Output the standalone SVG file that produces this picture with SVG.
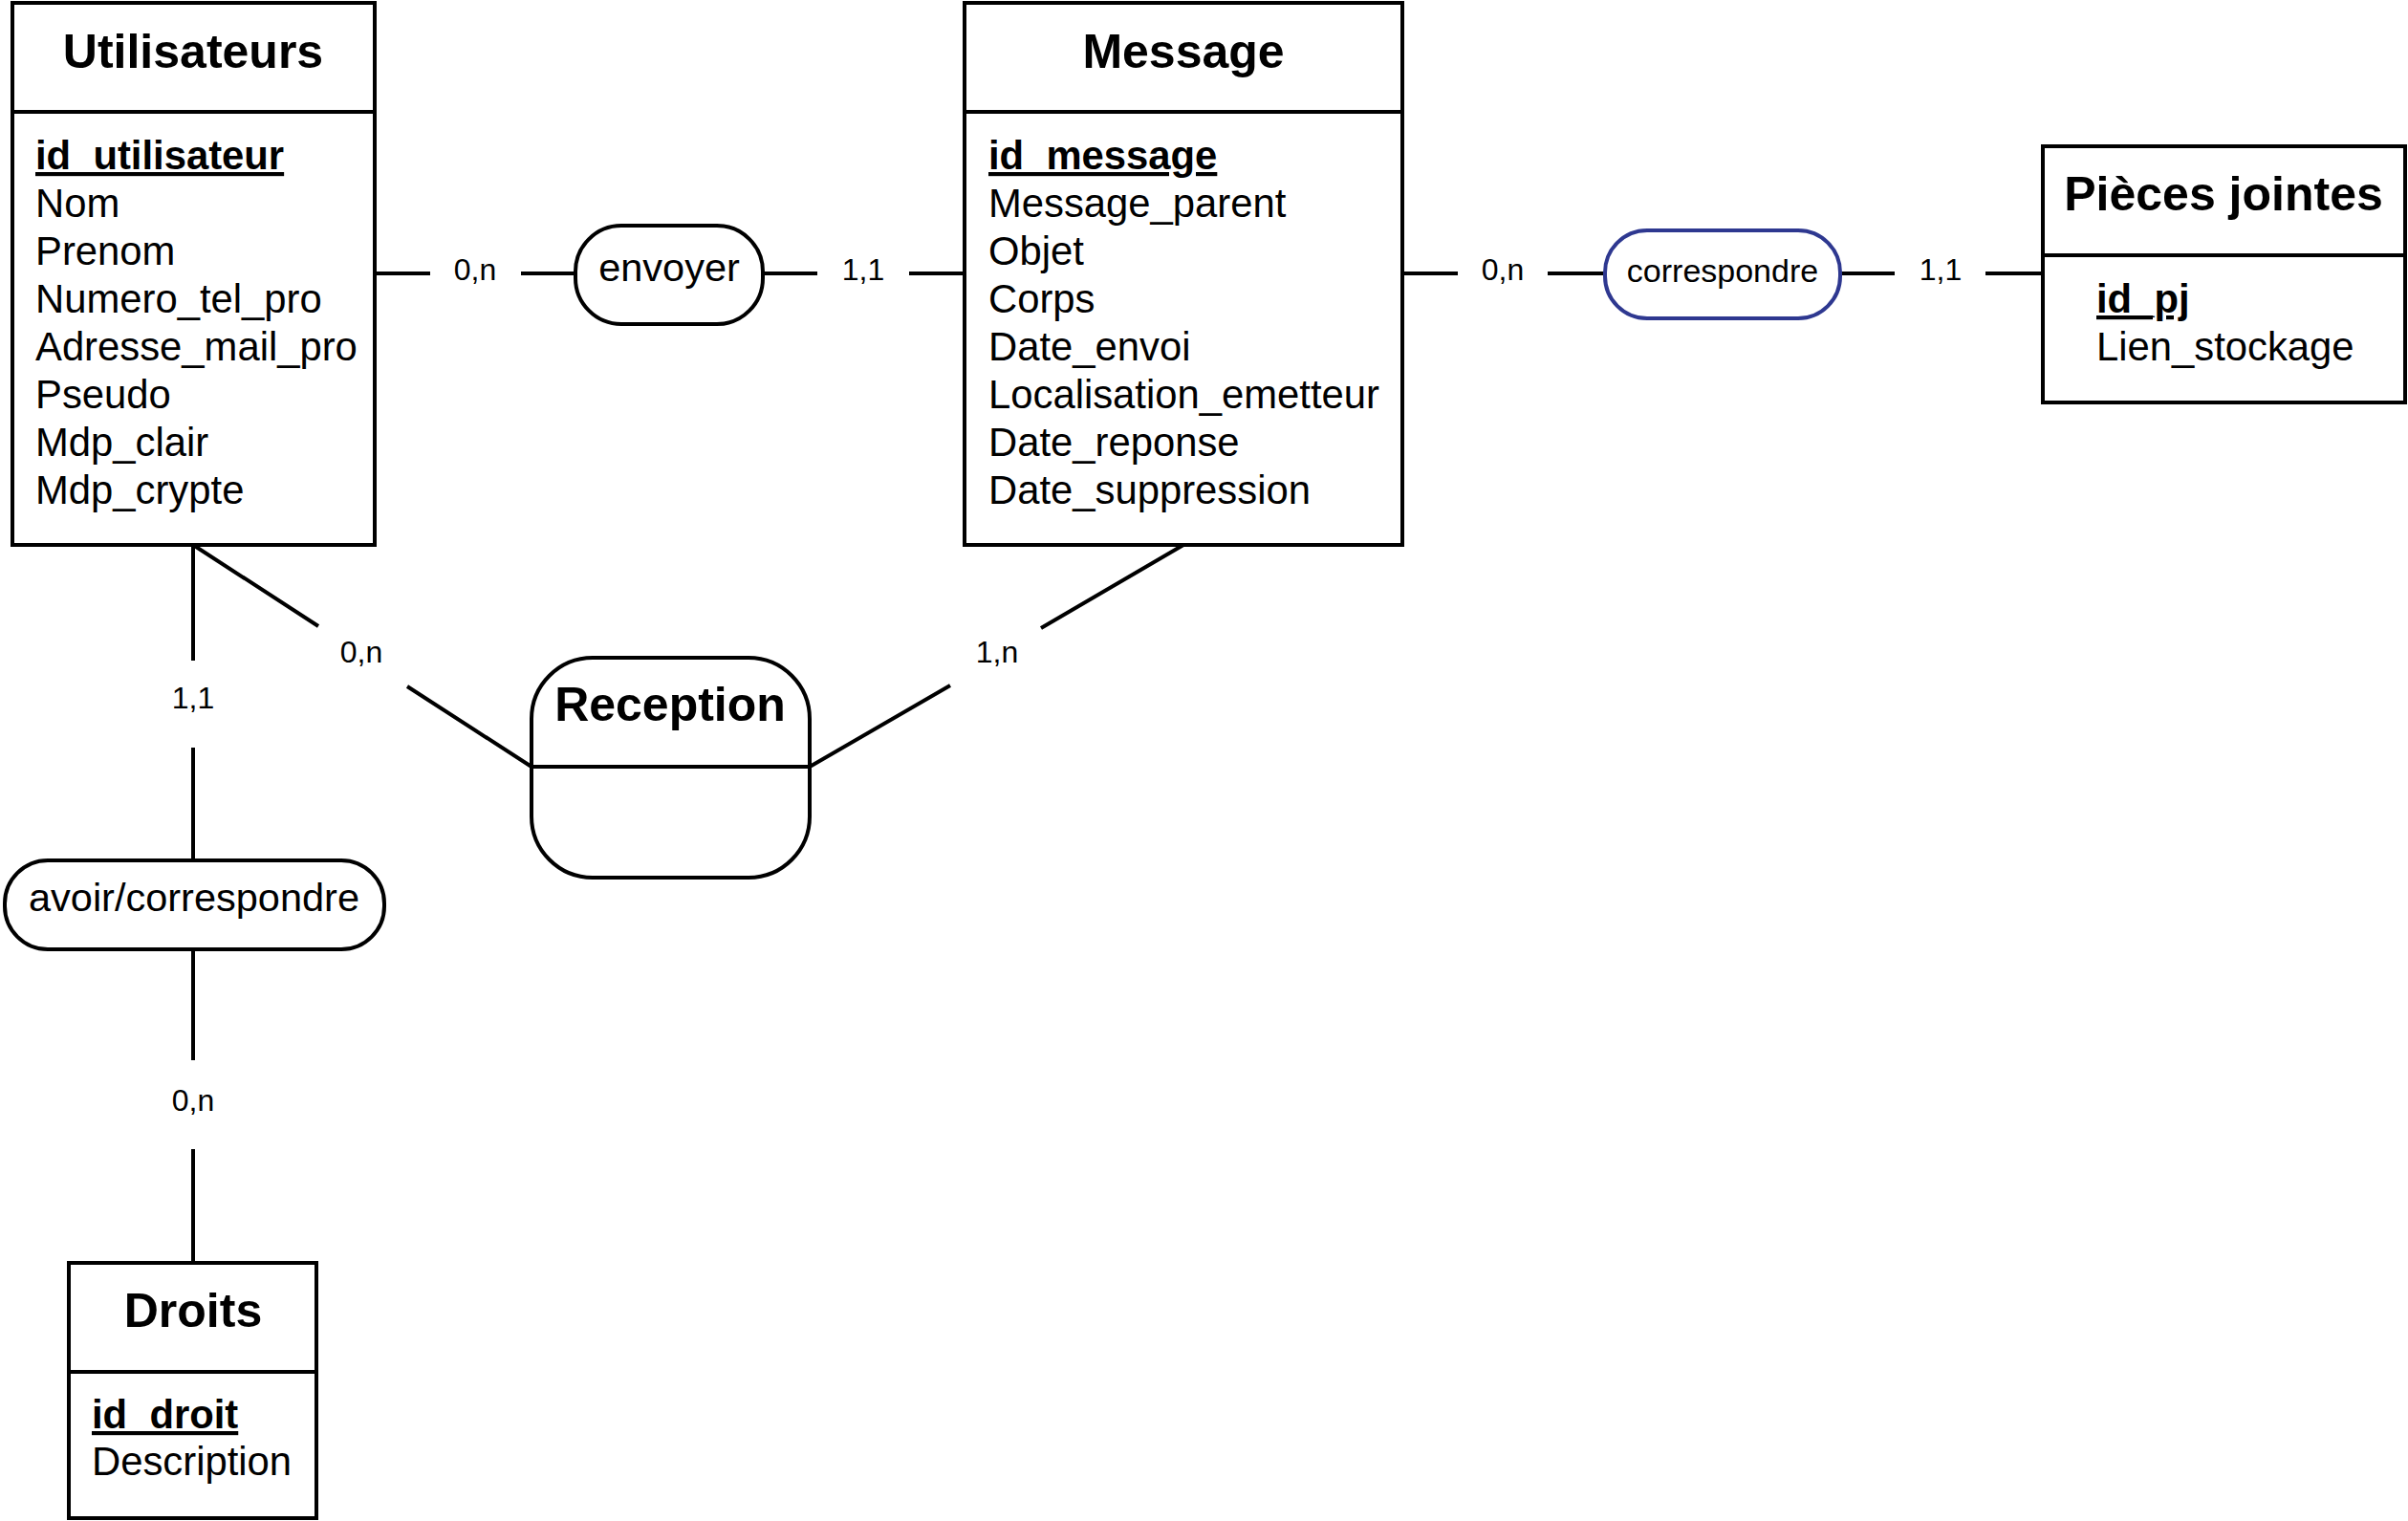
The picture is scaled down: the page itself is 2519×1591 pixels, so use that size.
<svg xmlns="http://www.w3.org/2000/svg" width="2519" height="1591" viewBox="0 0 2519 1591">
<style>
.box{fill:#fff;stroke:#000;stroke-width:4}
.ln{stroke:#000;stroke-width:4;fill:none}
.title{font-family:"Liberation Sans",Arial,sans-serif;font-size:50px;font-weight:bold;text-anchor:middle;fill:#000}
.attr{font-family:"Liberation Sans",Arial,sans-serif;font-size:41.8px;fill:#000}
.key{font-weight:bold;text-decoration:underline}
.rel{font-family:"Liberation Sans",Arial,sans-serif;font-size:41.5px;text-anchor:middle;fill:#000}
.card{font-family:"Liberation Sans",Arial,sans-serif;font-size:32px;text-anchor:middle;fill:#000}
</style>
<rect width="2519" height="1591" fill="#fff"/>
<g id="connectors">
<path class="ln" d="M392 286H450M545 286H602"/>
<text class="card" x="497" y="293">0,n</text>
<path class="ln" d="M798 286H855M951 286H1009"/>
<text class="card" x="903" y="293">1,1</text>
<path class="ln" d="M1467 286H1525M1619 286H1679"/>
<text class="card" x="1572" y="293">0,n</text>
<path class="ln" d="M1925 286H1982M2077 286H2137"/>
<text class="card" x="2030" y="293">1,1</text>
<path class="ln" d="M202 570V691M202 782V900"/>
<text class="card" x="202" y="741">1,1</text>
<path class="ln" d="M202 993V1109M202 1202V1321"/>
<text class="card" x="202" y="1162">0,n</text>
<path class="ln" d="M202 570L333 655M426 718L556 802"/>
<text class="card" x="378" y="693">0,n</text>
<path class="ln" d="M1238 570L1089 657M994 717L847 802"/>
<text class="card" x="1043" y="693">1,n</text>
</g>
<g id="utilisateurs">
<rect class="box" x="13" y="3" width="379" height="567"/>
<line class="ln" x1="13" y1="117" x2="392" y2="117"/>
<text class="title" x="202" y="71">Utilisateurs</text>
<text class="attr key" x="37" y="177">id_utilisateur</text>
<text class="attr" x="37" y="227">Nom</text>
<text class="attr" x="37" y="277">Prenom</text>
<text class="attr" x="37" y="327">Numero_tel_pro</text>
<text class="attr" x="37" y="377">Adresse_mail_pro</text>
<text class="attr" x="37" y="427">Pseudo</text>
<text class="attr" x="37" y="477">Mdp_clair</text>
<text class="attr" x="37" y="527">Mdp_crypte</text>
</g>
<g id="message">
<rect class="box" x="1009" y="3" width="458" height="567"/>
<line class="ln" x1="1009" y1="117" x2="1467" y2="117"/>
<text class="title" x="1238" y="71">Message</text>
<text class="attr key" x="1034" y="177">id_message</text>
<text class="attr" x="1034" y="227">Message_parent</text>
<text class="attr" x="1034" y="277">Objet</text>
<text class="attr" x="1034" y="327">Corps</text>
<text class="attr" x="1034" y="377">Date_envoi</text>
<text class="attr" x="1034" y="427">Localisation_emetteur</text>
<text class="attr" x="1034" y="477">Date_reponse</text>
<text class="attr" x="1034" y="527">Date_suppression</text>
</g>
<g id="pieces-jointes">
<rect class="box" x="2137" y="153" width="379" height="268"/>
<line class="ln" x1="2137" y1="267" x2="2516" y2="267"/>
<text class="title" x="2326" y="220">Pièces jointes</text>
<text class="attr key" x="2193" y="327">id_pj</text>
<text class="attr" x="2193" y="377">Lien_stockage</text>
</g>
<g id="droits">
<rect class="box" x="72" y="1321" width="259" height="267"/>
<line class="ln" x1="72" y1="1435" x2="331" y2="1435"/>
<text class="title" x="202" y="1388">Droits</text>
<text class="attr key" x="96" y="1494">id_droit</text>
<text class="attr" x="96" y="1543">Description</text>
</g>
<g id="envoyer">
<rect class="box" x="602" y="236" width="196" height="103" rx="48" ry="48"/>
<text class="rel" x="700" y="294">envoyer</text>
</g>
<g id="correspondre">
<rect x="1679" y="241" width="246" height="92" rx="44" ry="44" fill="#fff" stroke="#2e3890" stroke-width="4"/>
<text class="rel" x="1802" y="295" style="font-size:34px">correspondre</text>
</g>
<g id="avoir-correspondre">
<rect class="box" x="5" y="900" width="397" height="93" rx="45" ry="45"/>
<text class="rel" x="203" y="953">avoir/correspondre</text>
</g>
<g id="reception">
<rect class="box" x="556" y="688" width="291" height="230" rx="64" ry="64"/>
<line class="ln" x1="556" y1="802" x2="847" y2="802"/>
<text class="title" x="701" y="754">Reception</text>
</g>
</svg>
